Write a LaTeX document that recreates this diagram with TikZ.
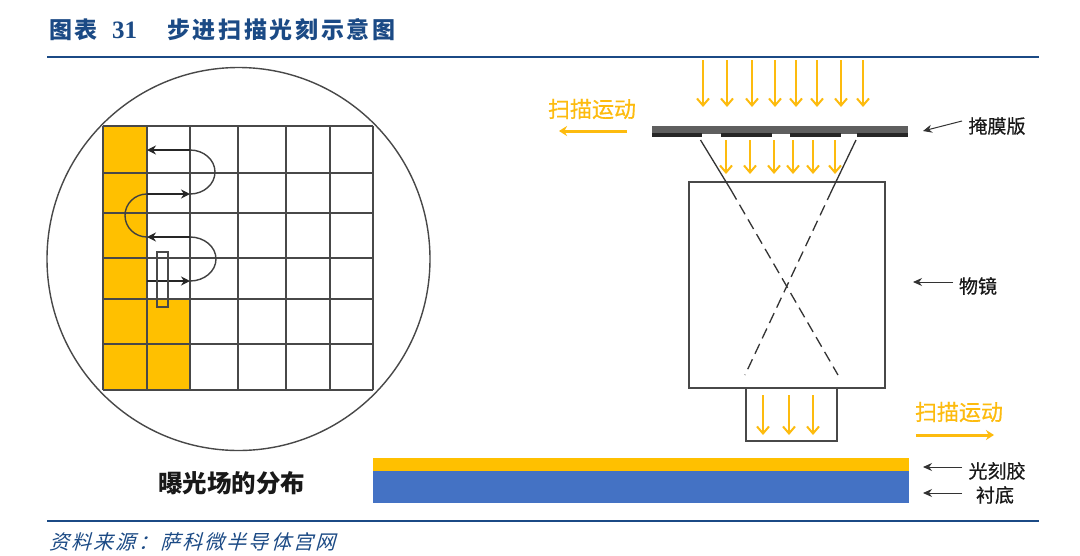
\documentclass[tikz,border=0pt]{standalone}
\usepackage{fontspec}
\setmainfont{Liberation Serif}
\newfontfamily\cjk{Noto Sans CJK SC}
\newfontfamily\cjkm{Noto Sans CJK SC}[FakeBold=0.5]
\newfontfamily\cjkt{Noto Sans CJK SC}[LetterSpace=11.6]
\newfontfamily\cjki{Noto Sans CJK SC}[FakeSlant=0.28,LetterSpace=11]
\usetikzlibrary{arrows.meta}
\definecolor{navy}{HTML}{1B4A85}
\definecolor{amber}{HTML}{FFC000}
\definecolor{amberdk}{HTML}{FDBB0E}
\definecolor{royal}{HTML}{4472C4}
\definecolor{ink}{HTML}{484848}
\definecolor{maskgrey}{HTML}{5F5F5F}
\tikzset{
  x=1pt,y=-1pt,
  gridline/.style={draw=ink,line width=1.4pt},
  scanline/.style={draw=black!75,line width=1.4pt},
  scanarrow/.style={draw=black!85,line width=1.3pt,-{Stealth[length=9pt,width=9pt]}},
  ray/.style={draw=black!80,line width=1.3pt},
  raydash/.style={ray,dash pattern=on 11pt off 6pt},
  beam/.style={draw=amberdk,line width=2pt,-{Straight Barb[length=7pt,width=12pt]}},
  moveline/.style={draw=amberdk,line width=3pt,-{Stealth[length=8pt,width=10pt]}},
  leader/.style={draw=black!80,line width=1pt,-{Stealth[length=9pt,width=8pt]}},
  boxline/.style={draw=ink,line width=1.4pt},
  lab/.style={inner sep=0pt,font=\cjkm\fontsize{19}{19}\selectfont,text=black!90},
  movelab/.style={inner sep=0pt,font=\cjkm\fontsize{22}{22}\selectfont,text=amberdk},
  rulebar/.style={draw=navy,line width=2.8pt},
}
\begin{document}
\begin{tikzpicture}
\useasboundingbox[fill=white] (0,0) rectangle (1080,555);
% header / footer
\node[anchor=base west,inner sep=0pt,text=navy,font=\cjkt\bfseries\fontsize{23}{23}\selectfont] (figno) at (49,38) {图表};
\node[anchor=base west,inner sep=0pt,text=navy,font=\bfseries\fontsize{25}{25}\selectfont] (fignum) at (112,38) {31};
\node[anchor=base west,inner sep=0pt,text=navy,font=\cjkt\bfseries\fontsize{23}{23}\selectfont] (figtitle) at (167,38) {步进扫描光刻示意图};
\coordinate (rt1) at (47,57); \coordinate (rt2) at (1039,57);
\coordinate (rb1) at (47,521); \coordinate (rb2) at (1039,521);
\draw[rulebar] (rt1) -- (rt2);
\draw[rulebar] (rb1) -- (rb2);
\node[anchor=base west,inner sep=0pt,text=navy,font=\cjki\fontsize{20}{20}\selectfont] (source) at (49,549) {资料来源：萨科微半导体宫网};
% wafer
\fill[amber] (103,126) rectangle (147,390);
\fill[amber] (147,299) rectangle (190,390);
\foreach \xx in {103,147,190,238,286,330,373} \draw[gridline] (\xx,126) -- (\xx,390);
\foreach \yy in {126,173,213,258,299,344,390} \draw[gridline] (103,\yy) -- (373,\yy);
\node[draw=ink,line width=1.4pt,circle,minimum size=383pt,inner sep=0pt] (wafer) at (238.5,259) {};
% scan path
\coordinate (s1) at (147,150); \coordinate (s2) at (190,150);
\coordinate (s3) at (190,194); \coordinate (s4) at (147,194);
\coordinate (s5) at (147,237); \coordinate (s6) at (190,237);
\coordinate (s7) at (190,281); \coordinate (s8) at (147,281);
\draw[scanline] (s2) arc[start angle=90,end angle=-90,x radius=25pt,y radius=22pt];
\draw[scanline] (s4) arc[start angle=90,end angle=270,x radius=22pt,y radius=21.5pt];
\draw[scanline] (s6) arc[start angle=90,end angle=-90,x radius=26pt,y radius=22pt];
\draw[scanarrow] (s2) -- (s1);
\draw[scanarrow] (s4) -- (s3);
\draw[scanarrow] (s6) -- (s5);
\draw[scanarrow] (s8) -- (s7);
\draw[draw=ink,line width=1.2pt] (157,252) rectangle (168,307);
\node[inner sep=0pt,font=\cjk\bfseries\fontsize{24.5}{24.5}\selectfont,text=black!90] (fieldlab) at (231.5,483) {曝光场的分布};
% top beams
\foreach \xx in {703,727,752,775,796,817,841,863} \draw[beam] (\xx,60) -- (\xx,107);
% mask
\fill[maskgrey] (652,126) rectangle (908,134);
\fill[black!85] (652,133) rectangle (702,136.5);
\fill[black!85] (721,133) rectangle (772,136.5);
\fill[black!85] (790,133) rectangle (841,136.5);
\fill[black!85] (857,133) rectangle (908,136.5);
\foreach \xx in {726,750,774,793,813,835} \draw[beam] (\xx,140) -- (\xx,174);
% objective
\node[boxline,draw,minimum width=196pt,minimum height=206pt,inner sep=0pt] (objective) at (787,285) {};
\node[boxline,draw,minimum width=91pt,minimum height=53pt,inner sep=0pt] (exitpupil) at (791.5,414.5) {};
\coordinate (la) at (700.5,140); \coordinate (lb) at (731,190); \coordinate (lc) at (838,375);
\coordinate (ra) at (856,140); \coordinate (rb) at (832,190); \coordinate (rc) at (745,375);
\draw[ray] (la) -- (lb);
\draw[raydash] (lb) -- (lc);
\draw[ray] (ra) -- (rb);
\draw[raydash] (rb) -- (rc);
\foreach \xx in {763,789,813} \draw[beam] (\xx,395) -- (\xx,435);
% wafer stack
\fill[amber] (373,458) rectangle (909,471);
\fill[royal] (373,471) rectangle (909,503);
% scan labels
\node[movelab] (move1) at (592,109) {扫描运动};
\coordinate (m1a) at (627,131); \coordinate (m1b) at (559,131);
\draw[moveline] (m1a) -- (m1b);
\node[movelab] (move2) at (959,412) {扫描运动};
\coordinate (m2a) at (916,435); \coordinate (m2b) at (994,435);
\draw[moveline] (m2a) -- (m2b);
% part labels
\node[lab] (masklab) at (997,126) {掩膜版};
\coordinate (mk) at (923,131);
\draw[leader] (962,121) -- (mk);
\node[lab] (lenslab) at (978,286) {物镜};
\coordinate (ln) at (913,282);
\draw[leader] (953,282) -- (ln);
\node[lab] (resistlab) at (997,471) {光刻胶};
\coordinate (rs) at (923,467);
\draw[leader] (962,467) -- (rs);
\node[lab] (sublab) at (995,495) {衬底};
\coordinate (sb) at (923,493);
\draw[leader] (962,493) -- (sb);
\end{tikzpicture}
\end{document}
